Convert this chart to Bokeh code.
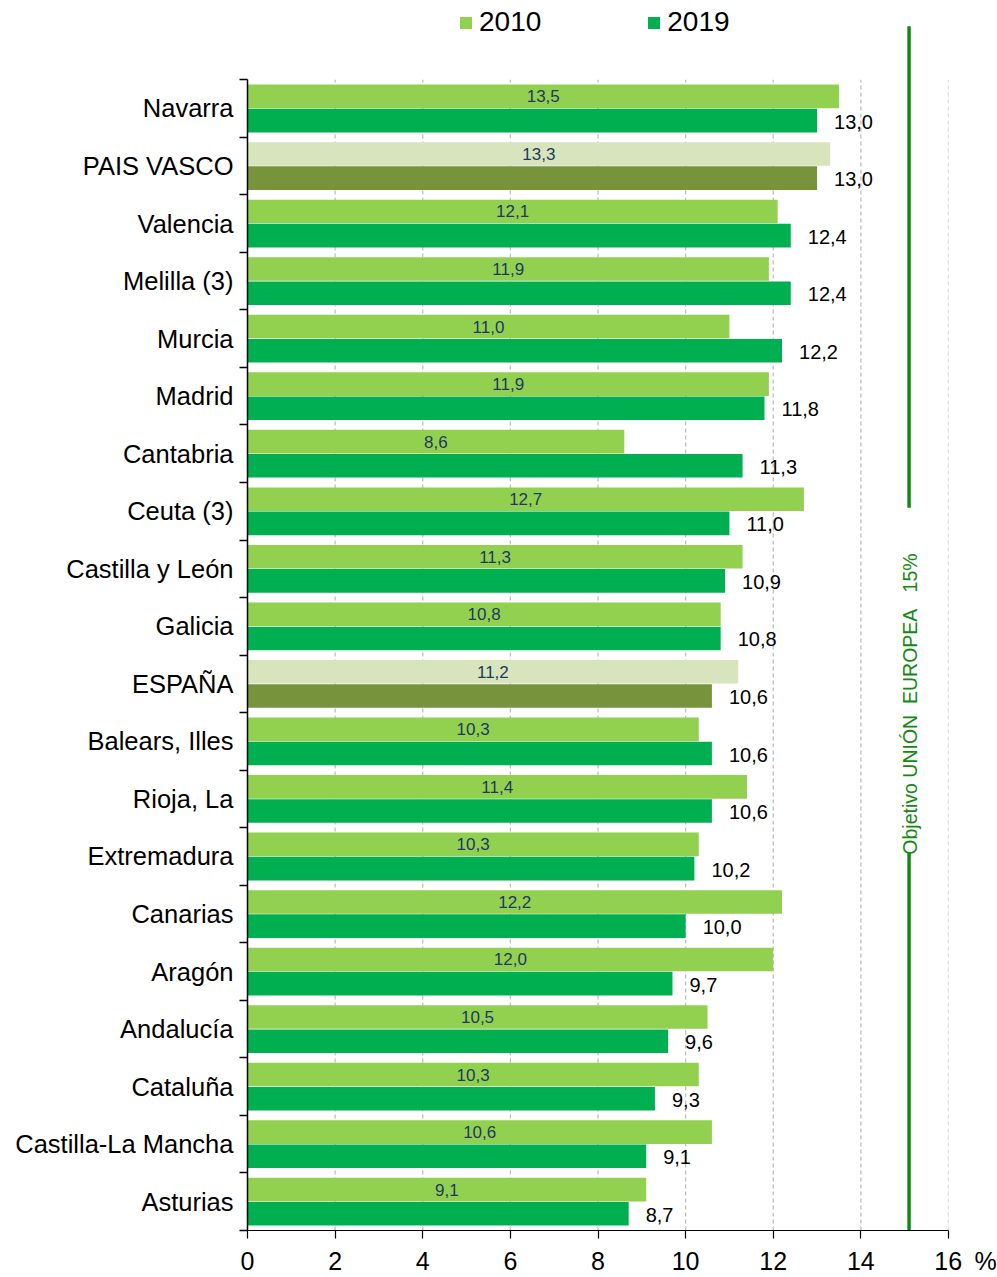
from math import pi
from bokeh.plotting import figure
from bokeh.models import FixedTicker, Legend, LegendItem, ColumnDataSource, Range1d
from bokeh.core.properties import value
from bokeh.embed import file_html
from bokeh.resources import INLINE

# ---------------- data (top to bottom) ----------------
regions = ["Navarra", "PAIS VASCO", "Valencia", "Melilla (3)", "Murcia", "Madrid",
           "Cantabria", "Ceuta (3)", "Castilla y León", "Galicia", "ESPAÑA",
           "Balears, Illes", "Rioja, La", "Extremadura", "Canarias", "Aragón",
           "Andalucía", "Cataluña", "Castilla-La Mancha", "Asturias"]
v2010 = [13.5, 13.3, 12.1, 11.9, 11.0, 11.9, 8.6, 12.7, 11.3, 10.8, 11.2,
         10.3, 11.4, 10.3, 12.2, 12.0, 10.5, 10.3, 10.6, 9.1]
v2019 = [13.0, 13.0, 12.4, 12.4, 12.2, 11.8, 11.3, 11.0, 10.9, 10.8, 10.6,
         10.6, 10.6, 10.2, 10.0, 9.7, 9.6, 9.3, 9.1, 8.7]
highlight = ["PAIS VASCO", "ESPAÑA"]
series_names = ["2010", "2019"]
x_ticks = [0, 2, 4, 6, 8, 10, 12, 14, 16]
x_tick_labels = ["0", "2", "4", "6", "8", "10", "12", "14",
                 "\u2003\u2008\u200a16\u2002%"]
target_x = 15.1
target_text = "Objetivo UNIÓN\u00a0 EUROPEA\u00a0\u00a0 15%"

FONT = "Liberation Sans"
C10, C19 = "#92D050", "#00B050"
C10H, C19H = "#D8E4BC", "#77933C"
GREEN = "#128A12"

n = len(regions)
centers = [n - i for i in range(n)]            # Navarra = 20 ... Asturias = 1
boundaries = [k + 0.5 for k in range(n + 1)]
y_top = boundaries[-1]
y_bot = boundaries[0]

p = figure(width=997, height=1277,
           x_range=Range1d(x_ticks[0], x_ticks[-1]),
           y_range=Range1d(y_bot, y_top + 1.377),
           output_backend="svg", toolbar_location=None,
           min_border_left=247, min_border_right=49,
           min_border_top=0, min_border_bottom=46)
p.outline_line_color = None
p.grid.visible = False
p.background_fill_color = "white"

# dashed vertical gridlines limited to the plotting band
gx = x_ticks[1:]
p.segment(x0=gx, y0=[y_bot] * len(gx), x1=gx, y1=[y_top] * len(gx),
          line_color="#BFBFBF", line_width=1.3, line_dash="4 3")

# bars
off, bh = 0.21, 0.41
fmt = lambda v: f"{v:.1f}".replace(".", ",")
src10 = ColumnDataSource(dict(
    y=[c + off for c in centers], right=v2010, mid=[v / 2 for v in v2010],
    color=[C10H if r in highlight else C10 for r in regions],
    label=[fmt(v) for v in v2010]))
src19 = ColumnDataSource(dict(
    y=[c - off for c in centers], right=v2019,
    color=[C19H if r in highlight else C19 for r in regions],
    label=[fmt(v) for v in v2019]))

r10 = p.hbar(y="y", left=0, right="right", height=bh, fill_color="color",
             line_color=None, source=src10)
r19 = p.hbar(y="y", left=0, right="right", height=bh, fill_color="color",
             line_color=None, source=src19)

p.text(x="mid", y="y", text="label", source=src10, text_align="center",
       text_baseline="middle", text_font=value(FONT), text_font_size="17px",
       text_color="#1F3864")
p.text(x="right", y="y", text="label", source=src19, text_align="left",
       text_baseline="middle", x_offset=17, y_offset=1, text_font=value(FONT),
       text_font_size="20px", text_color="black")

# EU target line with rotated caption
line_y0 = [y_top + 0.93, 7.08]
line_y1 = [13.06, y_bot - 0.3]
p.segment(x0=[target_x] * 2, y0=line_y0, x1=[target_x] * 2, y1=line_y1,
          line_color=GREEN, line_width=3.5)
p.text(x=[target_x + 0.03], y=[9.65], text=[target_text], angle=pi / 2,
       text_align="center", text_baseline="middle", text_font=value(FONT),
       text_font_size="19.5px", text_color=GREEN)

# axes
xa = p.xaxis[0]
xa.ticker = FixedTicker(ticks=x_ticks)
xa.major_label_overrides = {t: s for t, s in zip(x_ticks, x_tick_labels)}
xa.major_label_text_font = FONT
xa.major_label_text_font_size = "25px"
xa.major_label_text_color = "black"
xa.major_tick_out = 8
xa.major_tick_in = 0
xa.minor_tick_line_color = None
xa.major_label_standoff = 8
xa.axis_line_color = "black"
xa.axis_line_width = 1.2
xa.major_tick_line_color = "black"
xa.major_tick_line_width = 1.2

ya = p.yaxis[0]
ya.ticker = FixedTicker(ticks=centers, minor_ticks=boundaries)
ya.major_label_overrides = {c: r for c, r in zip(centers, regions)}
ya.major_label_text_font = FONT
ya.major_label_text_font_size = "25.5px"
ya.major_label_text_color = "black"
ya.major_tick_line_color = None
ya.major_tick_out = 0
ya.major_tick_in = 0
ya.minor_tick_out = 8
ya.minor_tick_in = 0
ya.minor_tick_line_color = "black"
ya.minor_tick_line_width = 1.5
ya.axis_line_color = "black"
ya.axis_line_width = 1.5
ya.bounds = (y_bot, y_top)
ya.major_label_standoff = 6

legend = Legend(items=[LegendItem(label=series_names[0], renderers=[r10], index=0),
                       LegendItem(label=series_names[1], renderers=[r19], index=0)],
                orientation="horizontal", location=(211, 1192),
                glyph_width=15, glyph_height=15, label_standoff=6, spacing=105,
                padding=0, margin=0, border_line_color=None,
                background_fill_alpha=0, label_text_font=FONT,
                label_text_font_size="28px", label_text_color="black")
p.add_layout(legend)

open("out.html", "w").write(file_html(p, INLINE))
